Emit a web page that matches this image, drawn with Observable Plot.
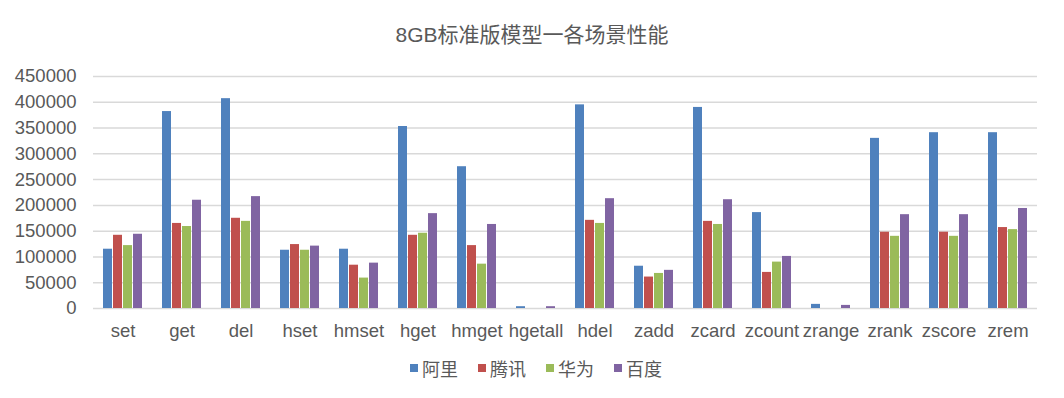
<!DOCTYPE html>
<html>
<head>
<meta charset="utf-8">
<script src="https://cdn.jsdelivr.net/npm/d3@7"></script>
<script src="https://cdn.jsdelivr.net/npm/@observablehq/plot@0.6"></script>
<style>
  body { margin: 0; background: #fff; font-family: "Liberation Sans", Arial, "Noto Sans CJK SC", sans-serif; color: #595959; }
  #wrap { width: 1064px; height: 398px; position: relative; }
  #title { height: 60px; line-height: 70px; text-align: center; font-size: 21px; color: #595959; font-family: "Liberation Sans", Arial, "Noto Sans CJK SC", sans-serif; }
  #legend { display: flex; justify-content: center; gap: 20px; font-size: 18px; margin-top: 0px; padding-left: 8px; }
  .sw { display: flex; align-items: center; }
  .sq { width: 8px; height: 8px; margin-right: 4px; }
</style>
</head>
<body>
<div id="wrap">
  <div id="title">8GB标准版模型一各场景性能</div>
  <div id="chart"></div>
  <div id="legend"></div>
</div>
<script>
const categories = ["set","get","del","hset","hmset","hget","hmget","hgetall","hdel","zadd","zcard","zcount","zrange","zrank","zscore","zrem"];
const seriesNames = ["阿里","腾讯","华为","百度"];
const ali     = [115000,382000,407000,113000,115000,353000,275000,3500,395000,82000,390000,186000,8000,330000,341000,341000];
const tencent = [142000,165000,175000,124000,84000,142000,122000,0,171000,61000,169000,70000,0,148000,148000,157000];
const huawei  = [122000,159000,169000,113000,59000,146000,86000,0,165000,68000,163000,90000,0,140000,140000,153000];
const baidu   = [144000,210000,217000,121000,88000,184000,163000,3500,213000,74000,211000,101000,6000,182000,182000,194000];
const yTicks = [0,50000,100000,150000,200000,250000,300000,350000,400000,450000];
const colors = ["#4F81BD","#C0504D","#9BBB59","#8064A2"];

const seriesValues = [ali, tencent, huawei, baidu];
const data = [];
categories.forEach((c, i) => {
  seriesNames.forEach((s, j) => data.push({cat: c, series: s, value: seriesValues[j][i]}));
});

const chart = Plot.plot({
  width: 1064,
  height: 295,
  marginLeft: 89,
  marginRight: 23,
  marginTop: 16,
  marginBottom: 47,
  style: {fontFamily: '"Liberation Sans", Arial, sans-serif', fontSize: "18.5px", color: "#595959", background: "#fff"},
  fx: {domain: categories, padding: 0, label: null, axis: "bottom", tickSize: 0, tickPadding: 15},
  x: {domain: seriesNames, axis: null, paddingInner: 0.15, paddingOuter: 0.78},
  y: {domain: [0, 450000], ticks: yTicks, label: null, axis: null},
  color: {domain: seriesNames, range: colors},
  marks: [
    Plot.ruleY(yTicks, {stroke: "#D9D9D9", strokeWidth: 1.5}),
    Plot.barY(data, {fx: "cat", x: "series", y: "value", fill: "series"}),
    Plot.axisY({ticks: yTicks, tickSize: 0, tickPadding: 17, tickFormat: d => String(d), fontSize: 18.5, fill: "#595959", label: null})
  ]
});
document.getElementById("chart").appendChild(chart);

const leg = document.getElementById("legend");
seriesNames.forEach((s, j) => {
  const d = document.createElement("div");
  d.className = "sw";
  d.innerHTML = `<span class="sq" style="background:${colors[j]}"></span><span>${s}</span>`;
  leg.appendChild(d);
});
</script>
</body>
</html>
